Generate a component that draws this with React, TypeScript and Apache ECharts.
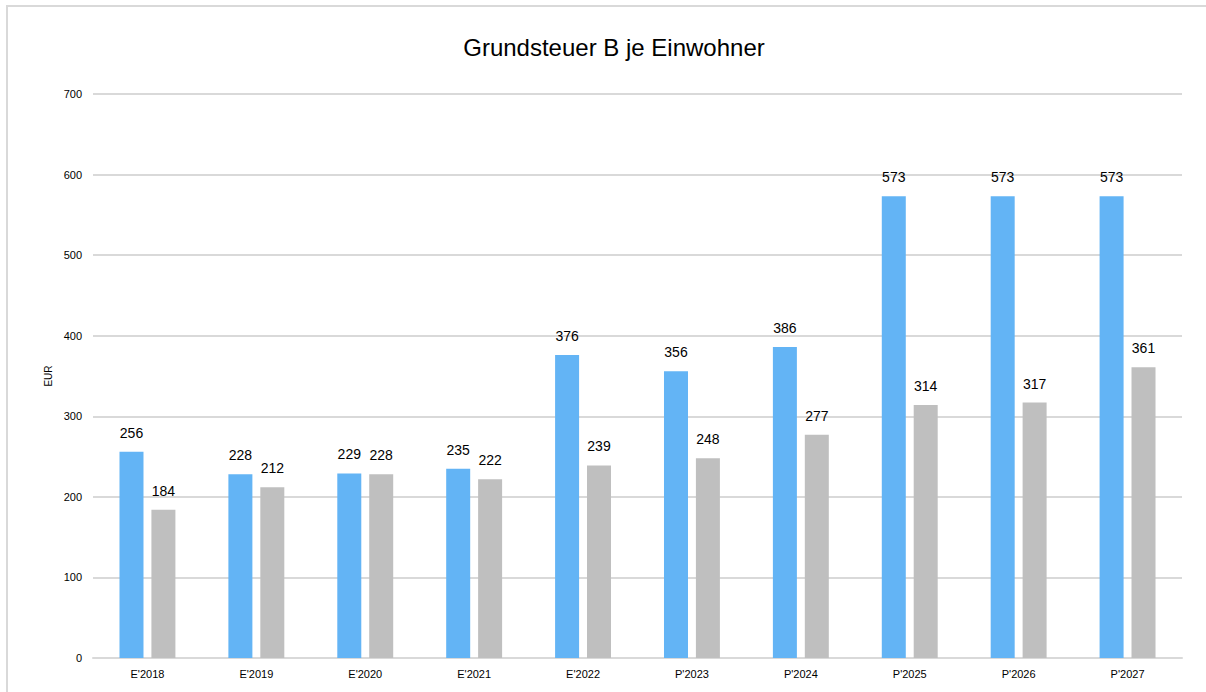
import React, { useEffect, useRef } from "react";
import * as echarts from "echarts";

const categories = ["E'2018", "E'2019", "E'2020", "E'2021", "E'2022", "P'2023", "P'2024", "P'2025", "P'2026", "P'2027"];
const seriesA = [256, 228, 229, 235, 376, 356, 386, 573, 573, 573];
const seriesB = [184, 212, 228, 222, 239, 248, 277, 314, 317, 361];
const titleText = "Grundsteuer B je Einwohner";
const yAxisName = "EUR";

export default function App() {
  const ref = useRef<HTMLDivElement>(null);
  useEffect(() => {
    const chart = echarts.init(ref.current!, null, { renderer: "svg" });
    const font = "Liberation Sans, Arial, sans-serif";
    chart.setOption({
      animation: false,
      backgroundColor: "#ffffff",
      title: {
        text: titleText,
        left: 609,
        top: 30,
        textAlign: "center",
        textStyle: { fontFamily: font, fontSize: 24, fontWeight: "normal", color: "#000" },
      },
      graphic: [
        {
          type: "rect",
          shape: { x: 7, y: 6, width: 1220, height: 720 },
          style: { fill: "none", stroke: "#d9d9d9", lineWidth: 2 },
          silent: true,
        },
        {
          type: "text",
          x: 48,
          y: 376,
          rotation: Math.PI / 2,
          style: { text: yAxisName, fontFamily: font, fontSize: 10, fill: "#000", textAlign: "center", textVerticalAlign: "middle" },
        },
      ],
      grid: { left: 93, right: 24, top: 94, bottom: 34, containLabel: false },
      xAxis: {
        type: "category",
        data: categories,
        axisLine: { lineStyle: { color: "#d9d9d9", width: 2 } },
        axisTick: { show: false },
        axisLabel: { fontFamily: font, fontSize: 11, color: "#000", margin: 10 },
      },
      yAxis: {
        type: "value",
        min: 0,
        max: 700,
        interval: 100,
        axisLine: { show: false },
        axisTick: { show: false },
        splitLine: { lineStyle: { color: "#d9d9d9", width: 2 } },
        axisLabel: { fontFamily: font, fontSize: 11, color: "#000", margin: 11 },
      },
      series: [
        {
          type: "bar",
          data: seriesA,
          barWidth: 24,
          barGap: "33%",
          itemStyle: { color: "#63B4F5" },
          label: { show: true, position: "top", distance: 12, fontFamily: font, fontSize: 14, color: "#000" },
        },
        {
          type: "bar",
          data: seriesB,
          barWidth: 24,
          itemStyle: { color: "#BFBFBF" },
          label: { show: true, position: "top", distance: 12, fontFamily: font, fontSize: 14, color: "#000" },
        },
      ],
    });
    return () => chart.dispose();
  }, []);
  return <div ref={ref} style={{ position: "absolute", left: 0, top: 0, width: 1206, height: 692 }} />;
}
